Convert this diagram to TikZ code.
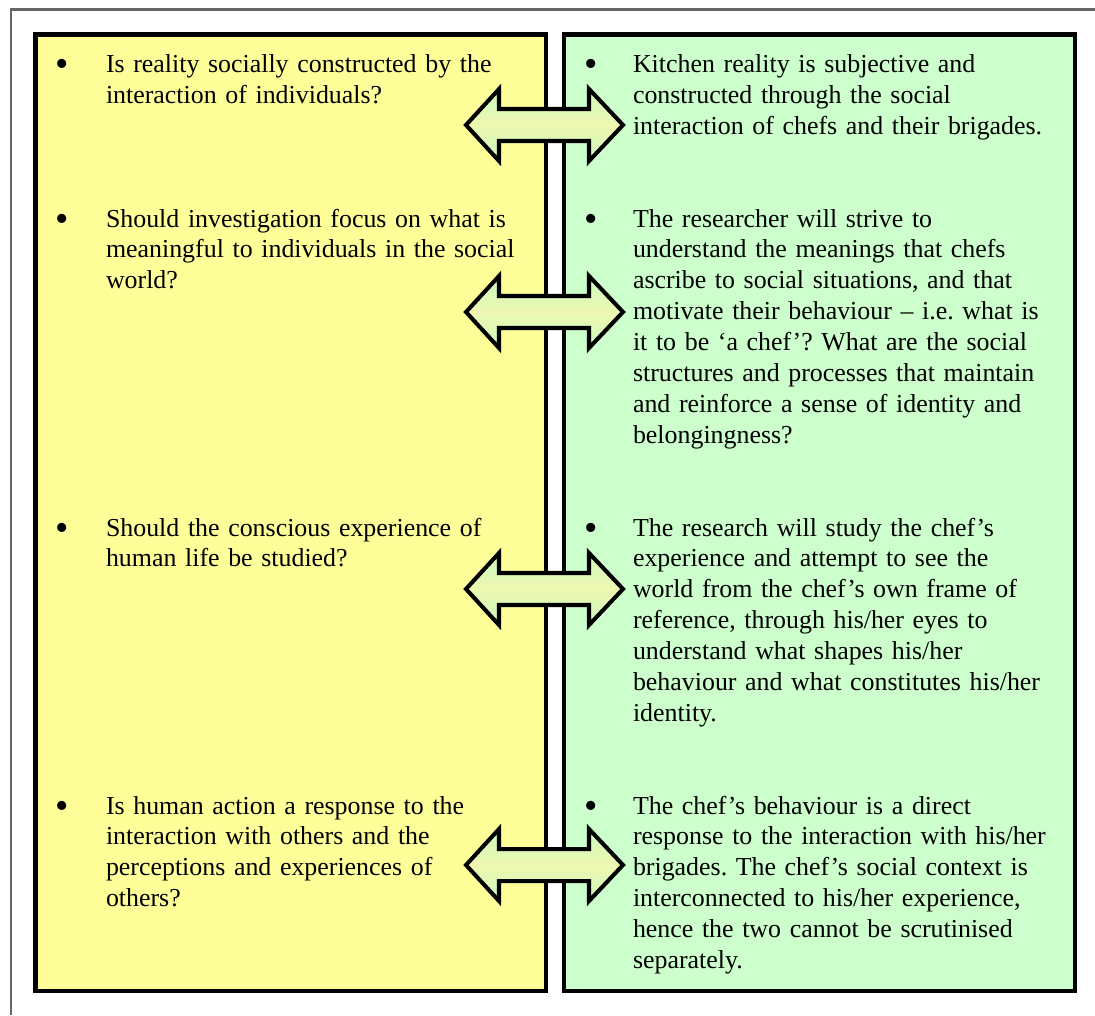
\documentclass[tikz,border=0pt]{standalone}
\usepackage{fontspec}
\setmainfont{Liberation Serif}
\frenchspacing
\definecolor{boxyellow}{HTML}{FFFF99}
\definecolor{boxgreen}{HTML}{CCFFCC}
\definecolor{arrowtop}{HTML}{CCF8C0}
\definecolor{arrowmid}{HTML}{EEF8B0}
\definecolor{framegray}{HTML}{666666}
\tikzset{
  panel/.style={draw=black, line width=1.8pt},
  dblarrowstyle/.style={draw=black, line width=1.8pt, line join=miter, top color=arrowtop, bottom color=arrowtop, middle color=arrowmid},
  txt/.style={anchor=base west, inner sep=0pt, outer sep=0pt, text width=215pt, align=left, font=\fontsize{11.55}{13.78}\selectfont\frenchspacing},
  bul/.style={anchor=base, inner sep=0pt, outer sep=0pt, font=\fontsize{17}{17}\selectfont}
}
\newcommand\dblarrow[2]{%
  \path[dblarrowstyle] (466,#2) -- (499,#2-36) -- (499,#2-16) -- (589,#2-16) -- (589,#2-36) -- (623,#2)
    -- (589,#2+36) -- (589,#2+16) -- (499,#2+16) -- (499,#2+36) -- cycle;
  \coordinate (#1) at (544.5,#2);
}
\begin{document}
\begin{tikzpicture}[x=0.446pt, y=-0.446pt]
\useasboundingbox (0,0) rectangle (1095,1015);
% outer frame (partly visible)
\draw[framegray, line width=0.9pt] (11,1015) -- (11,9.5) -- (1095,9.5);
% panels
\path[panel, fill=boxyellow] (35.5,34.5) rectangle (546,991);
\path[panel, fill=boxgreen] (564,34.5) rectangle (1075,991);
% bullets
\foreach \b/\n in {72.5/1,227/2,536/3,814/4}{
  \node[bul] (lb\n) at (62.5,\b+4) {•};
  \node[bul] (rb\n) at (591.5,\b+4) {•};
}
% left texts
\node[txt] (l1) at (106,72.5) {Is reality socially constructed by the\\interaction of individuals?};
\node[txt] (l2) at (106,227) {Should investigation focus on what is\\meaningful to individuals in the social\\world?};
\node[txt] (l3) at (106,536) {Should the conscious experience of\\human life be studied?};
\node[txt] (l4) at (106,814) {Is human action a response to the\\interaction with others and the\\perceptions and experiences of\\others?};
% right texts
\node[txt] (r1) at (633,72.5) {Kitchen reality is subjective and\\constructed through the social\\interaction of chefs and their brigades.};
\node[txt] (r2) at (633,227) {The researcher will strive to\\understand the meanings that chefs\\ascribe to social situations, and that\\motivate their behaviour – i.e. what is\\it to be ‘a chef’? What are the social\\structures and processes that maintain\\and reinforce a sense of identity and\\belongingness?};
\node[txt] (r3) at (633,536) {The research will study the chef’s\\experience and attempt to see the\\world from the chef’s own frame of\\reference, through his/her eyes to\\understand what shapes his/her\\behaviour and what constitutes his/her\\identity.};
\node[txt] (r4) at (633,814) {The chef’s behaviour is a direct\\response to the interaction with his/her\\brigades. The chef’s social context is\\interconnected to his/her experience,\\hence the two cannot be scrutinised\\separately.};
% double arrows
\dblarrow{a1}{125}
\dblarrow{a2}{312}
\dblarrow{a3}{589}
\dblarrow{a4}{865}
\end{tikzpicture}
\end{document}
